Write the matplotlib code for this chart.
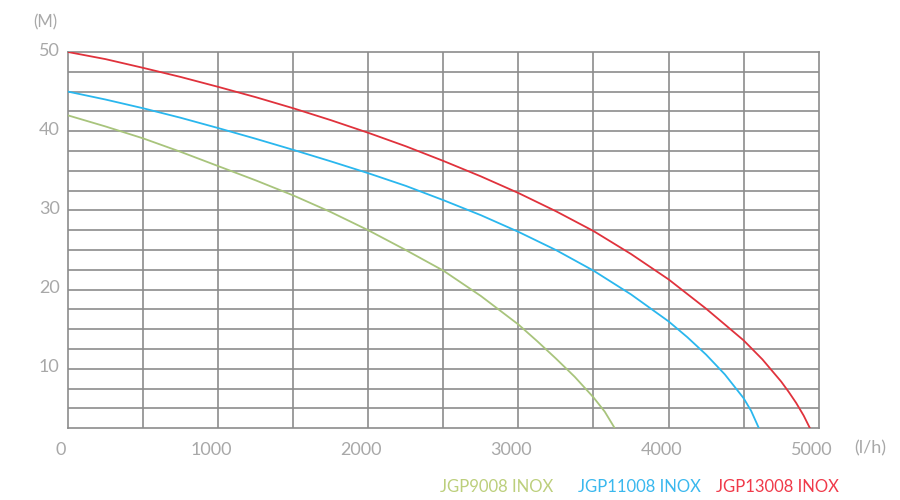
import matplotlib
matplotlib.use("Agg")
import matplotlib.pyplot as plt
import matplotlib.transforms as mtransforms

# flow (l/h) and head (M)
flow_9008 = [0, 250, 500, 750, 1000, 1250, 1500, 1750, 2000, 2250, 2500, 2750, 3000,
             3125, 3250, 3375, 3500, 3575, 3642]
head_9008 = [42.0, 40.6, 39.1, 37.4, 35.6, 33.8, 31.9, 29.8, 27.5, 25.0, 22.4, 19.2, 15.6,
             13.5, 11.3, 9.0, 6.4, 4.6, 2.5]

flow_11008 = [0, 250, 500, 750, 1000, 1250, 1500, 1750, 2000, 2250, 2500, 2750, 3000,
              3250, 3500, 3750, 4000, 4125, 4250, 4375, 4500, 4550, 4602]
head_11008 = [45.0, 44.0, 42.9, 41.7, 40.4, 39.05, 37.65, 36.2, 34.7, 33.1, 31.3, 29.4, 27.3,
              25.0, 22.4, 19.4, 16.0, 14.0, 11.8, 9.3, 6.3, 4.7, 2.5]

flow_13008 = [0, 250, 500, 750, 1000, 1250, 1500, 1750, 2000, 2250, 2500, 2750, 3000,
              3250, 3500, 3750, 4000, 4250, 4500, 4625, 4750, 4800, 4850, 4900, 4942]
head_13008 = [50.0, 49.1, 48.0, 46.85, 45.6, 44.3, 42.9, 41.4, 39.8, 38.1, 36.25, 34.3, 32.2,
              29.9, 27.4, 24.5, 21.3, 17.6, 13.6, 11.2, 8.4, 7.1, 5.7, 4.1, 2.5]

names = ["JGP9008 INOX", "JGP11008 INOX", "JGP13008 INOX"]
line_colors = ["#a8c47c", "#2ab7ee", "#e0323c"]
text_colors = ["#bccf7c", "#3ab8ee", "#f03a4a"]

x_ticks = [0, 1000, 2000, 3000, 4000, 5000]
y_ticks = [10, 20, 30, 40, 50]

plt.rcParams['font.family'] = ['Lato', 'DejaVu Sans']

fig = plt.figure(figsize=(9, 5), dpi=100)
ax = fig.add_axes([68 / 900, 1 - 428.3 / 500, (818.7 - 68) / 900, (428.3 - 52) / 500])

ax.set_xlim(0, 5000)
ax.set_ylim(2.5, 50)

grid_c = "#8c8c8c"
for x in range(500, 5000, 500):
    ax.axvline(x, color=grid_c, lw=1.2, zorder=1)
for y in [2.5 * k for k in range(2, 20)]:
    ax.axhline(y, color=grid_c, lw=1.2, zorder=1)
for s in ax.spines.values():
    s.set_color(grid_c)
    s.set_linewidth(1.2)

flows = [flow_9008, flow_11008, flow_13008]
heads = [head_9008, head_11008, head_13008]
for f, h, c in zip(flows, heads, line_colors):
    ax.plot(f, h, color=c, lw=1.3, zorder=3, solid_joinstyle='round')

ax.tick_params(length=0, colors="#a8a8a8", labelsize=13, pad=10)
ax.set_xticks(x_ticks)
ax.set_xticklabels([str(v) for v in x_ticks])
ax.set_yticks(y_ticks)
ax.set_yticklabels([str(v) for v in y_ticks])
ax.tick_params(axis='y', pad=6)

xoff = mtransforms.ScaledTranslation(-7 / 100, 0, fig.dpi_scale_trans)
for lbl in ax.get_xticklabels():
    lbl.set_transform(lbl.get_transform() + xoff)
yoff = mtransforms.ScaledTranslation(0, 3 / 100, fig.dpi_scale_trans)
for lbl in ax.get_yticklabels():
    lbl.set_transform(lbl.get_transform() + yoff)

fig.text(45 / 900, 1 - 22 / 500, "(M)", color="#a8a8a8", fontsize=12, ha='center', va='center')
fig.text(870 / 900, 1 - 448 / 500, "(l/h)", color="#a8a8a8", fontsize=13, ha='center', va='center')

legend_x = [440, 578, 716]
for name, c, lx in zip(names, text_colors, legend_x):
    fig.text(lx / 900, 1 - 487 / 500, name, color=c, fontsize=12, ha='left', va='center',
             family=['Liberation Sans Narrow', 'Lato', 'DejaVu Sans'])

fig.savefig("out.png", dpi=100)
